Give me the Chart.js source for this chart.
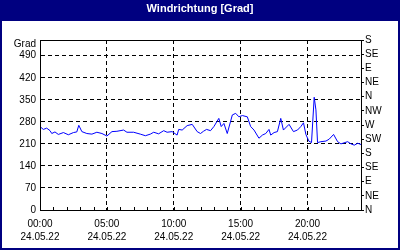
<!DOCTYPE html>
<html>
<head>
<meta charset="utf-8">
<script src="https://cdn.jsdelivr.net/npm/chart.js@4"></script>
<style>
  body { margin: 0; background: #fff; }
  canvas { display: block; }
</style>
</head>
<body>
<canvas id="myChart" width="400" height="250"></canvas>
<script>
// Data (hours since 00:00, degrees)
var hours = [0, 0.25, 0.5, 0.75, 0.88, 1.12, 1.37, 1.75, 2.12, 2.5, 2.75, 2.9, 3.13, 3.5, 3.88,
  4.25, 4.63, 5.0, 5.38, 5.75, 6.25, 6.5, 7.0, 7.5, 7.88, 8.25, 8.5, 8.87, 9.25, 9.5,
  9.88, 10.25, 10.37, 10.63, 11.0, 11.38, 11.75, 12.0, 12.22, 12.45, 12.75, 13.0, 13.37, 13.55, 13.75,
  14.0, 14.38, 14.63, 14.87, 15.13, 15.5, 15.75, 16.0, 16.37, 16.63, 16.88, 17.12, 17.25, 17.5, 17.75,
  18.0, 18.2, 18.62, 18.95, 19.25, 19.5, 19.7, 19.88, 20.1, 20.3, 20.5, 20.63, 20.75, 21.0, 21.38,
  21.62, 21.95, 22.25, 22.5, 23.0, 23.25, 23.5, 23.75, 24.0];
var grad = [265, 256, 260, 252, 243, 248, 240, 246, 239, 246, 248, 269, 249, 243, 241,
  247, 243, 235, 249, 250, 254, 247, 247, 241, 236, 241, 247, 242, 252, 247,
  249, 238, 256, 254, 268, 272, 249, 243, 250, 256, 252, 265, 291, 265, 275,
  243, 302, 307, 296, 300, 296, 265, 254, 228, 238, 243, 256, 238, 246, 249,
  291, 254, 272, 249, 254, 265, 277, 240, 219, 214, 358, 318, 214, 217, 219,
  225, 240, 217, 210, 217, 210, 206, 212, 208];

// Tick labels
var xTicks = [0, 5, 10, 15, 20];
var xTimeLabels = ["00:00", "05:00", "10:00", "15:00", "20:00"];
var xDateLabel = "24.05.22";
var yTicks = [0, 70, 140, 210, 280, 350, 420, 490, 540];
var yUnitLabel = "Grad";
var dirTicks = [0, 45, 90, 135, 180, 225, 270, 315, 360, 405, 450, 495, 540];
var dirLabels = ["N", "NE", "E", "SE", "S", "SW", "W", "NW", "N", "NE", "E", "SE", "S"];

var navy = "#000080";
var family = "'Liberation Sans', Arial, sans-serif";
var font = { family: family, size: 10 };

function setTicks(list) {
  return function (scale) {
    scale.ticks = list.map(function (v) { return { value: v }; });
  };
}

// navy frame + title bar behind the chart, white panel inside
var framePlugin = {
  id: "frame",
  beforeDraw: function (chart) {
    var c = chart.ctx;
    c.save();
    c.fillStyle = navy;
    c.fillRect(0, 0, chart.width, chart.height);
    c.fillStyle = "#ffffff";
    c.fillRect(2, 21, chart.width - 4, chart.height - 23);
    c.restore();
  },
  afterDraw: function (chart) {
    var c = chart.ctx;
    var a = chart.chartArea;
    var xs = chart.scales.x;
    c.save();
    c.strokeStyle = "#000";
    c.lineWidth = 1;
    c.strokeRect(a.left + 0.5, a.top + 0.5, a.right - a.left, a.bottom - a.top);
    // hourly ticks pointing into the plot
    c.beginPath();
    for (var h = 1; h < 24; h++) {
      var px = Math.round(xs.getPixelForValue(h)) + 0.5;
      c.moveTo(px, a.bottom);
      c.lineTo(px, a.bottom - 3);
    }
    c.stroke();
    c.restore();
  }
};

var ctx = document.getElementById("myChart");
var myChart = new Chart(ctx, {
  type: "line",
  data: {
    datasets: [{
      label: "Windrichtung",
      data: hours.map(function (h, i) { return { x: h, y: grad[i] }; }),
      borderColor: "#0000ff",
      borderWidth: 1,
      pointRadius: 0,
      tension: 0,
      fill: false
    }]
  },
  options: {
    responsive: false,
    animation: false,
    layout: { padding: 0 },
    plugins: {
      legend: { display: false },
      tooltip: { enabled: false },
      title: {
        display: true,
        text: "Windrichtung [Grad]",
        color: "#ffffff",
        font: { family: family, size: 11, weight: "bold", lineHeight: 1.2 },
        padding: { top: 2, bottom: 24.8 }
      }
    },
    scales: {
      x: {
        type: "linear",
        position: "bottom",
        min: 0,
        max: 24,
        afterBuildTicks: setTicks(xTicks),
        afterFit: function (scale) { scale.height = 40; },
        ticks: {
          autoSkip: false,
          maxRotation: 0,
          padding: 8,
          color: "#000",
          font: { family: family, size: 10, lineHeight: 1.3 },
          callback: function (value, index) {
            return [xTimeLabels[index], xDateLabel];
          }
        },
        grid: {
          drawTicks: false,
          color: function (c) {
            var v = c.tick ? c.tick.value : 0;
            return (v > 0 && v < 24) ? "#000" : "rgba(0,0,0,0)";
          }
        },
        border: { display: true, color: "#000", width: 1, dash: [4, 3] }
      },
      y: {
        type: "linear",
        position: "left",
        min: 0,
        max: 540,
        afterBuildTicks: setTicks(yTicks),
        afterFit: function (scale) { scale.width = 40; },
        ticks: {
          autoSkip: false,
          padding: 4,
          color: "#000",
          // the unit label sits a little below the top line
          font: function (c) {
            if (c.tick && c.tick.value === 540) {
              return { family: family, size: 10, lineHeight: 0.8 };
            }
            return font;
          },
          callback: function (value) {
            return value === 540 ? ["", yUnitLabel] : value;
          }
        },
        grid: {
          drawTicks: false,
          color: function (c) {
            var v = c.tick ? c.tick.value : 0;
            return (v > 0 && v < 540) ? "#000" : "rgba(0,0,0,0)";
          }
        },
        border: { display: true, color: "#000", width: 1, dash: [4, 3] }
      },
      dir: {
        type: "linear",
        position: "right",
        min: 0,
        max: 540,
        afterBuildTicks: setTicks(dirTicks),
        afterFit: function (scale) { scale.width = 39; },
        ticks: {
          autoSkip: false,
          padding: 1,
          color: "#000",
          font: font,
          callback: function (value, index) {
            return dirLabels[index];
          }
        },
        grid: {
          drawOnChartArea: false,
          drawTicks: true,
          tickLength: 3,
          color: "#000",
          tickColor: "#000"
        },
        border: { display: true, color: "#000", width: 1 }
      }
    }
  },
  plugins: [framePlugin]
});
</script>
</body>
</html>
